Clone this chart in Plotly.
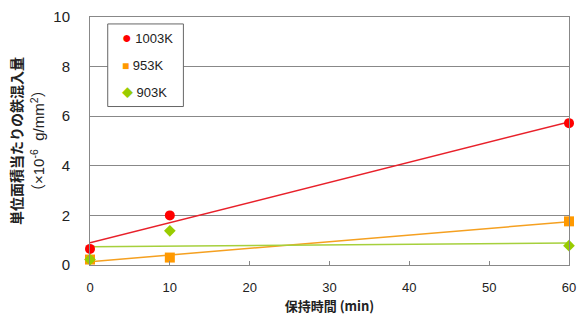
import numpy as np
import plotly.graph_objects as go

times = [0, 10, 60]
series_names = ["1003K", "953K", "903K"]
v1003 = [0.65, 2.0, 5.72]
v953 = [0.22, 0.30, 1.76]
v903 = [0.22, 1.38, 0.78]
x_ticks = [0, 10, 20, 30, 40, 50, 60]
y_ticks = [0, 2, 4, 6, 8, 10]

marker_colors = ["#ff0000", "#ff9900", "#99cc00"]
line_colors = ["#e8202a", "#f5a020", "#a6d03c"]
symbols = ["circle", "square", "diamond"]
glyphs = ["●", "■", "◆"]
glyph_sizes = [16, 12, 11]
sizes = [10, 10, 9]

FONT = "Liberation Sans, Noto Sans CJK JP, sans-serif"
CJK = "Noto Sans CJK JP, sans-serif"
fig = go.Figure()
for i, (name, vals) in enumerate(zip(series_names, [v1003, v953, v903])):
    k, b = np.polyfit(times, vals, 1)
    xs = [min(times), max(times)]
    fig.add_trace(go.Scatter(x=xs, y=[k * xx + b for xx in xs], mode="lines",
                             line=dict(color=line_colors[i], width=1.5),
                             showlegend=False, hoverinfo="skip"))
for i, (name, vals) in enumerate(zip(series_names, [v1003, v953, v903])):
    fig.add_trace(go.Scatter(x=times, y=vals, mode="markers", name=name,
                             showlegend=False,
                             marker=dict(color=marker_colors[i], symbol=symbols[i],
                                         size=sizes[i], line=dict(width=0)),
                             cliponaxis=False))

fig.update_layout(
    width=584, height=320,
    margin=dict(l=90, r=8, t=13, b=55),
    paper_bgcolor="white", plot_bgcolor="white",
    font=dict(family=FONT, size=13, color="#222"),
    showlegend=False,
    xaxis=dict(range=[0, 60], tickvals=x_ticks, showgrid=False, zeroline=False,
               showline=True, linecolor="#888", linewidth=1, mirror=True,
               ticks="inside", ticklen=4, tickcolor="#888",
               ticklabelstandoff=10, tickfont=dict(size=13),
               title=dict(text="<b>保持時間 (min)</b>", font=dict(size=13, family=CJK),
                          standoff=8)),
    yaxis=dict(range=[0, 10], tickvals=y_ticks, showgrid=True, gridcolor="#888",
               gridwidth=1, zeroline=False, showline=True, linecolor="#888",
               linewidth=1, mirror=True, ticks="", ticklabelstandoff=16,
               tickfont=dict(size=15)),
)

# legend box
lx0, lx1 = 0.037, 0.195
ly0, ly1 = 0.639, 0.972
fig.add_shape(type="rect", xref="paper", yref="paper", x0=lx0, x1=lx1, y0=ly0, y1=ly1,
              line=dict(color="#666", width=1), fillcolor="white", layer="above")
for i, name in enumerate(series_names):
    yy = ly1 - (i + 0.5) * (ly1 - ly0) / 3
    fig.add_annotation(
        text=f'<span style="color:{marker_colors[i]};font-size:{glyph_sizes[i]}px">{glyphs[i]}</span> {name}',
        xref="paper", yref="paper", x=lx0, y=yy, xanchor="left", yanchor="middle",
        xshift=12, showarrow=False, font=dict(size=13, family=FONT, color="#222"))

fig.add_annotation(text="<b>単位面積当たりの鉄混入量</b>", xref="paper", yref="paper",
                   x=0, y=0.5, xanchor="center", yanchor="middle", xshift=-74,
                   textangle=-90, showarrow=False,
                   font=dict(size=14, family=CJK, color="#222"))
fig.add_annotation(text="（×10<sup>-6</sup>&nbsp;&nbsp;g/mm<sup>2</sup>）", xref="paper", yref="paper",
                   x=0, y=0.5, xanchor="center", yanchor="middle", xshift=-53,
                   textangle=-90, showarrow=False,
                   font=dict(size=15, family=FONT, color="#222"))
fig.write_html("out.html")
